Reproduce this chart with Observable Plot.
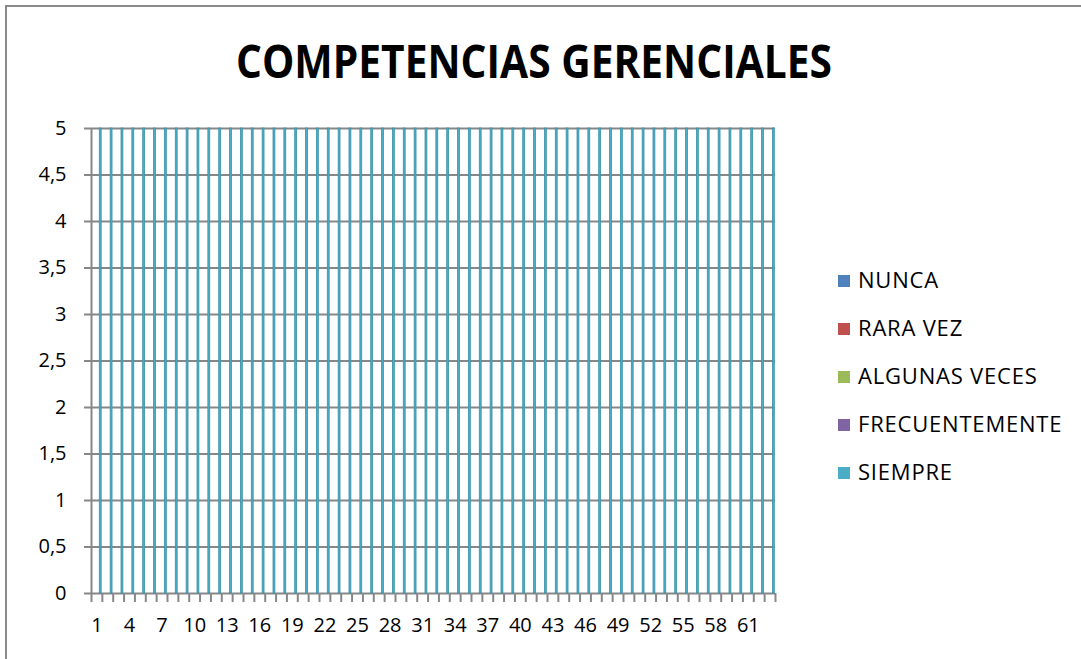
<!DOCTYPE html>
<html>
<head>
<meta charset="utf-8">
<script src="https://cdn.jsdelivr.net/npm/d3@7"></script>
<script src="https://cdn.jsdelivr.net/npm/@observablehq/plot@0.6"></script>
<style>
  html, body { margin: 0; padding: 0; background: #fff; }
  #page { position: relative; width: 1081px; height: 659px; overflow: hidden; font-family: "Open Sans", sans-serif; }
  #frame { position: absolute; left: 5px; top: 5px; width: 1100px; height: 700px; border-left: 2px solid #8a8a8a; border-top: 2px solid #8a8a8a; }
  #chart { position: absolute; left: 0; top: 0; }
  #chart svg text { font-size: 20px !important; font-family: "Open Sans", sans-serif; }
  #title { position: absolute; left: 0; top: 0; }
  .leg { position: absolute; left: 838px; font-size: 22px; letter-spacing: 0.8px; color: #000; line-height: 1; white-space: nowrap; }
  .leg span.sw { position: absolute; left: 0; top: 4px; width: 12px; height: 12px; }
  .leg span.tx { position: absolute; left: 20px; top: -3px; }
</style>
</head>
<body>
<div id="page">
  <div id="frame"></div>
  <div id="chart"></div>
  <svg id="title" width="1081" height="110"></svg>
  <div id="legend"></div>
</div>
<script>
const titleText = "COMPETENCIAS GERENCIALES";
const categories = [1,2,3,4,5,6,7,8,9,10,11,12,13,14,15,16,17,18,19,20,21,22,23,24,25,26,27,28,29,30,31,32,33,34,35,36,37,38,39,40,41,42,43,44,45,46,47,48,49,50,51,52,53,54,55,56,57,58,59,60,61,62,63];
const seriesNames = ["NUNCA", "RARA VEZ", "ALGUNAS VECES", "FRECUENTEMENTE", "SIEMPRE"];
const seriesColors = ["#4F81BD", "#C0504D", "#9BBB59", "#8064A2", "#4BACC6"];
const seriesStrokes = ["#3f6a9c", "#9e3f3c", "#7f9a47", "#685185", "#3a93ab"];
const nunca = [0,0,0,0,0,0,0,0,0,0,0,0,0,0,0,0,0,0,0,0,0,0,0,0,0,0,0,0,0,0,0,0,0,0,0,0,0,0,0,0,0,0,0,0,0,0,0,0,0,0,0,0,0,0,0,0,0,0,0,0,0,0,0];
const raraVez = [0,0,0,0,0,0,0,0,0,0,0,0,0,0,0,0,0,0,0,0,0,0,0,0,0,0,0,0,0,0,0,0,0,0,0,0,0,0,0,0,0,0,0,0,0,0,0,0,0,0,0,0,0,0,0,0,0,0,0,0,0,0,0];
const algunasVeces = [0,0,0,0,0,0,0,0,0,0,0,0,0,0,0,0,0,0,0,0,0,0,0,0,0,0,0,0,0,0,0,0,0,0,0,0,0,0,0,0,0,0,0,0,0,0,0,0,0,0,0,0,0,0,0,0,0,0,0,0,0,0,0];
const frecuentemente = [0,0,0,0,0,0,0,0,0,0,0,0,0,0,0,0,0,0,0,0,0,0,0,0,0,0,0,0,0,0,0,0,0,0,0,0,0,0,0,0,0,0,0,0,0,0,0,0,0,0,0,0,0,0,0,0,0,0,0,0,0,0,0];
const siempre = [5,5,5,5,5,5,5,5,5,5,5,5,5,5,5,5,5,5,5,5,5,5,5,5,5,5,5,5,5,5,5,5,5,5,5,5,5,5,5,5,5,5,5,5,5,5,5,5,5,5,5,5,5,5,5,5,5,5,5,5,5,5,5];
const yTicks = [0, 0.5, 1, 1.5, 2, 2.5, 3, 3.5, 4, 4.5, 5];
const xTickLabels = [1,4,7,10,13,16,19,22,25,28,31,34,37,40,43,46,49,52,55,58,61];

const seriesValues = [nunca, raraVez, algunasVeces, frecuentemente, siempre];

const W = 1081, H = 659;
const mL = 91, mR = 306, mT = 128, mB = 66;
const band = (W - mL - mR) / categories.length;
const barW = 1.9;
const off = (band - barW * seriesNames.length) / 2;
const grey = "#878787";

const fmt = d => String(d).replace(".", ",");
const boundaries = [...categories.map(c => c - 0.5), categories[categories.length - 1] + 0.5];

const barMarks = seriesNames.map((name, i) => {
  const rows = categories.map((c, j) => ({cat: c, serie: name, value: seriesValues[i][j]})).filter(d => d.value > 0);
  return Plot.rectY(rows, {
    x1: d => d.cat - 0.5,
    x2: d => d.cat + 0.5,
    y1: 0,
    y2: "value",
    fill: seriesColors[i],
    stroke: seriesStrokes[i],
    strokeWidth: 0.8,
    insetLeft: off + i * barW,
    insetRight: band - off - (i + 1) * barW
  });
});

const chart = Plot.plot({
  width: W,
  height: H,
  marginLeft: mL,
  marginRight: mR,
  marginTop: mT,
  marginBottom: mB,
  style: {fontFamily: "Open Sans", fontSize: "20px", background: "transparent", color: "#000", overflow: "visible"},
  x: {type: "linear", domain: [0.5, categories.length + 0.5], label: null},
  y: {domain: [0, 5], label: null},
  marks: [
    Plot.ruleY(yTicks, {x1: 0.5, x2: categories.length + 0.5, stroke: grey, strokeWidth: 2}),
    ...barMarks,
    Plot.ruleX([0.5], {stroke: grey, strokeWidth: 2}),
    Plot.axisY({ticks: yTicks, tickSize: 7, tickPadding: 18, tickFormat: fmt, stroke: grey, strokeWidth: 2, fill: "#000", fontSize: 20, label: null}),
    Plot.axisX({ticks: boundaries, tickSize: 9, tickFormat: () => "", stroke: grey, strokeWidth: 2, label: null}),
    Plot.axisX({ticks: xTickLabels, tickSize: 0, tickPadding: 24, tickFormat: d => String(d), fill: "#000", fontSize: 20, label: null})
  ]
});
document.getElementById("chart").appendChild(chart);

// Title
const tsvg = d3.select("#title");
tsvg.append("text")
  .attr("x", 236)
  .attr("y", 78)
  .attr("textLength", 596)
  .attr("lengthAdjust", "spacingAndGlyphs")
  .attr("font-family", "Open Sans")
  .attr("font-weight", "bold")
  .attr("font-size", 46)
  .attr("fill", "#000")
  .text(titleText);

// Legend
const legend = d3.select("#legend");
seriesNames.forEach((name, i) => {
  const item = legend.append("div").attr("class", "leg").style("top", (271 + i * 48) + "px");
  item.append("span").attr("class", "sw").style("background", seriesColors[i]);
  item.append("span").attr("class", "tx").text(name);
});
</script>
</body>
</html>
